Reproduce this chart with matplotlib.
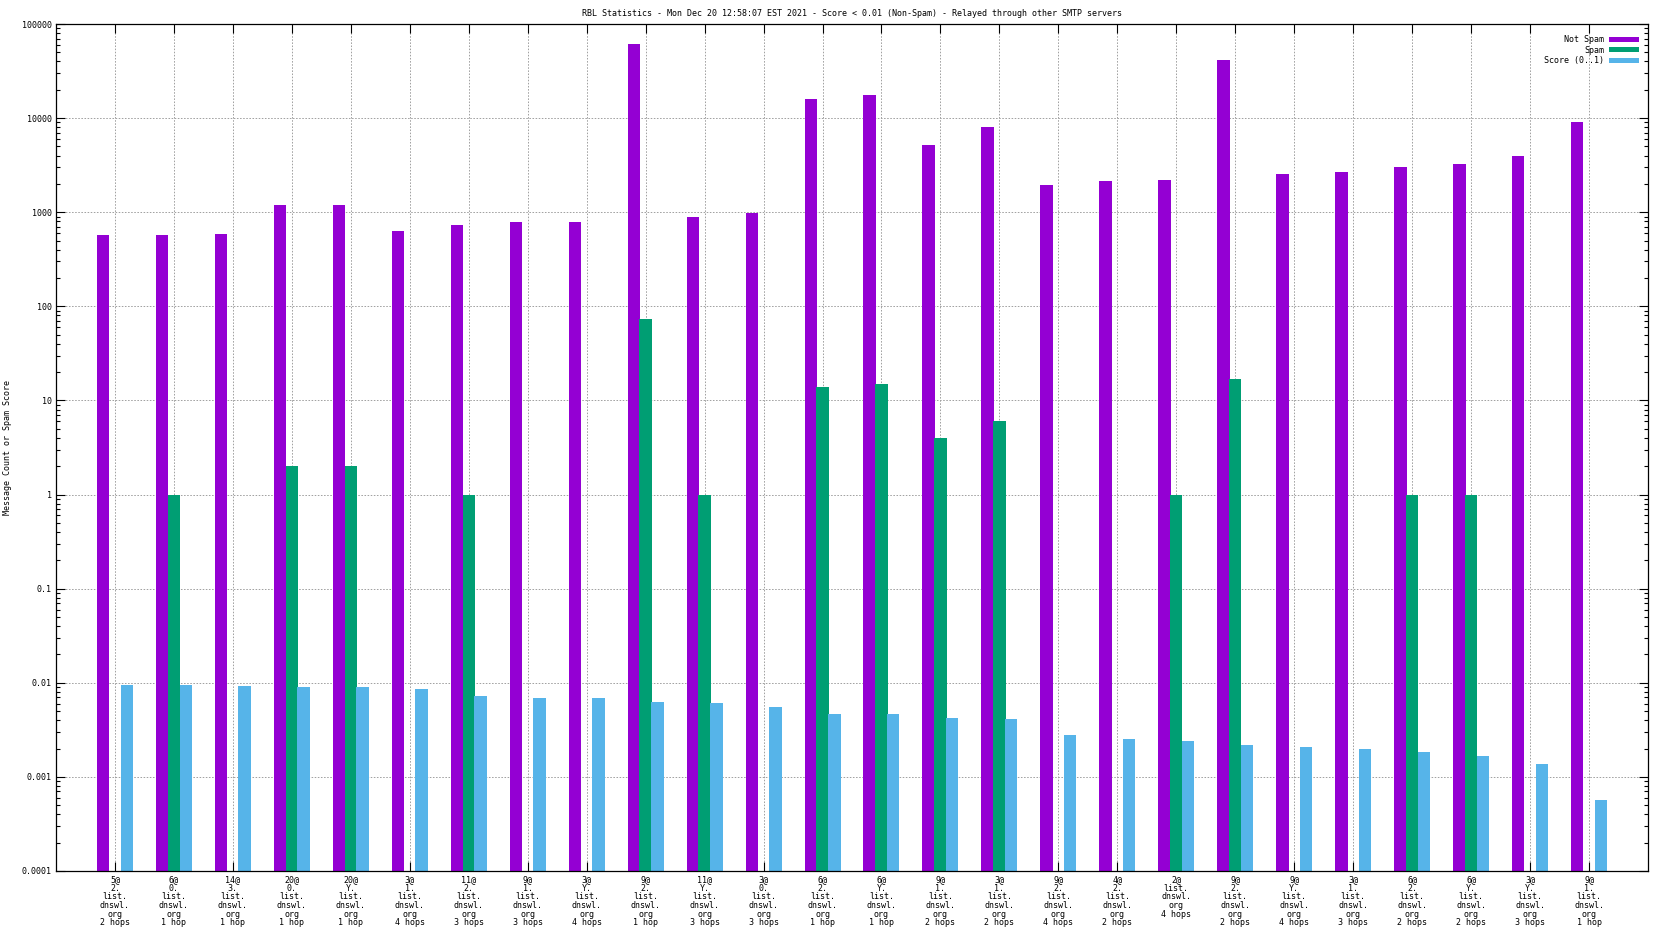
import matplotlib
matplotlib.use('Agg')
import matplotlib.pyplot as plt
from matplotlib.ticker import LogLocator, FuncFormatter, NullFormatter
import numpy as np

# donnees (echelle log)
labels = [
    "5@\n2.\nlist.\ndnswl.\norg\n2 hops",
    "6@\n0.\nlist.\ndnswl.\norg\n1 hop",
    "14@\n3.\nlist.\ndnswl.\norg\n1 hop",
    "20@\n0.\nlist.\ndnswl.\norg\n1 hop",
    "20@\nY.\nlist.\ndnswl.\norg\n1 hop",
    "3@\n1.\nlist.\ndnswl.\norg\n4 hops",
    "11@\n2.\nlist.\ndnswl.\norg\n3 hops",
    "9@\n1.\nlist.\ndnswl.\norg\n3 hops",
    "3@\nY.\nlist.\ndnswl.\norg\n4 hops",
    "9@\n2.\nlist.\ndnswl.\norg\n1 hop",
    "11@\nY.\nlist.\ndnswl.\norg\n3 hops",
    "3@\n0.\nlist.\ndnswl.\norg\n3 hops",
    "6@\n2.\nlist.\ndnswl.\norg\n1 hop",
    "6@\nY.\nlist.\ndnswl.\norg\n1 hop",
    "9@\n1.\nlist.\ndnswl.\norg\n2 hops",
    "3@\n1.\nlist.\ndnswl.\norg\n2 hops",
    "9@\n2.\nlist.\ndnswl.\norg\n4 hops",
    "4@\n2.\nlist.\ndnswl.\norg\n2 hops",
    "2@\nlist.\ndnswl.\norg\n4 hops",
    "9@\n2.\nlist.\ndnswl.\norg\n2 hops",
    "9@\nY.\nlist.\ndnswl.\norg\n4 hops",
    "3@\n1.\nlist.\ndnswl.\norg\n3 hops",
    "6@\n2.\nlist.\ndnswl.\norg\n2 hops",
    "6@\nY.\nlist.\ndnswl.\norg\n2 hops",
    "3@\nY.\nlist.\ndnswl.\norg\n3 hops",
    "9@\n1.\nlist.\ndnswl.\norg\n1 hop",
]
not_spam = [570, 570, 580, 1180, 1180, 635, 740, 780, 780, 62000, 885, 980,
            16100, 17400, 5150, 8000, 1925, 2130, 2200, 41000, 2560, 2700,
            2990, 3230, 3970, 9100]
spam = [0, 1, 0, 2, 2, 0, 1, 0, 0, 73, 1, 0, 14, 15, 4, 6, 0, 0, 1, 17,
        0, 0, 1, 1, 0, 0]
score = [0.0094, 0.0094, 0.0093, 0.0090, 0.0090, 0.0086, 0.0073, 0.0069,
         0.0069, 0.0063, 0.0061, 0.0055, 0.0047, 0.0047, 0.0042, 0.0041,
         0.0028, 0.0025, 0.0024, 0.0022, 0.0021, 0.0020, 0.00185, 0.00166,
         0.00138, 0.00057]

violet = '#9400d3'
vert = '#009e73'
bleu = '#56b4e9'
fs = 6

plt.rcParams['font.family'] = 'DejaVu Sans Mono'
plt.rcParams['font.size'] = fs

fig = plt.figure(figsize=(16.64, 9.36), dpi=100)
ax = fig.add_axes([56/1664, 1 - 871/936, (1648-56)/1664, (871-24)/936])
ax.set_yscale('log')

x = np.arange(len(labels))
w = 0.21
def nz(v):
    return [np.nan if a <= 0 else a for a in v]

ax.bar(x - 0.2, nz(not_spam), w, color=violet, label='Not Spam', zorder=2)
ax.bar(x, nz(spam), w, color=vert, label='Spam', zorder=2)
ax.bar(x + 0.2, nz(score), w, color=bleu, label='Score (0..1)', zorder=2)

ax.set_xlim(-1, 26)
ax.set_ylim(1e-4, 1e5)
ax.set_xticks(x)
ax.set_xticklabels(labels, linespacing=0.95, va='top', ha='center')
ax.yaxis.set_major_locator(LogLocator(base=10, numticks=20))
ax.yaxis.set_minor_locator(LogLocator(base=10, subs=np.arange(2, 10), numticks=20))
ax.yaxis.set_major_formatter(FuncFormatter(lambda v, p: '%g' % v))
ax.yaxis.set_minor_formatter(NullFormatter())

ax.tick_params(which='both', direction='in', top=True, right=True, width=0.8, color='black')
ax.tick_params(which='major', length=6.5, pad=3)
ax.tick_params(which='minor', length=3.2)
for s in ax.spines.values():
    s.set_linewidth(0.9)

ax.grid(True, which='major', color='#a0a0a0', linestyle=(0, (1.6, 1.6)), linewidth=0.7, zorder=0)
ax.set_axisbelow(True)

ax.set_ylabel('Message Count or Spam Score')
ax.yaxis.set_label_coords((12-56)/1592, 0.5)
ax.set_title('RBL Statistics - Mon Dec 20 12:58:07 EST 2021 - Score < 0.01 (Non-Spam) - Relayed through other SMTP servers',
             fontsize=fs, pad=6)

ax.legend(loc='upper right', bbox_to_anchor=(1 - 9/1592, 1 - 11/847), frameon=False,
          markerfirst=False, borderpad=0, borderaxespad=0, handlelength=3.6,
          handleheight=0.55, labelspacing=0.2, handletextpad=0.6, fontsize=fs)

fig.savefig('out.png', dpi=100)
